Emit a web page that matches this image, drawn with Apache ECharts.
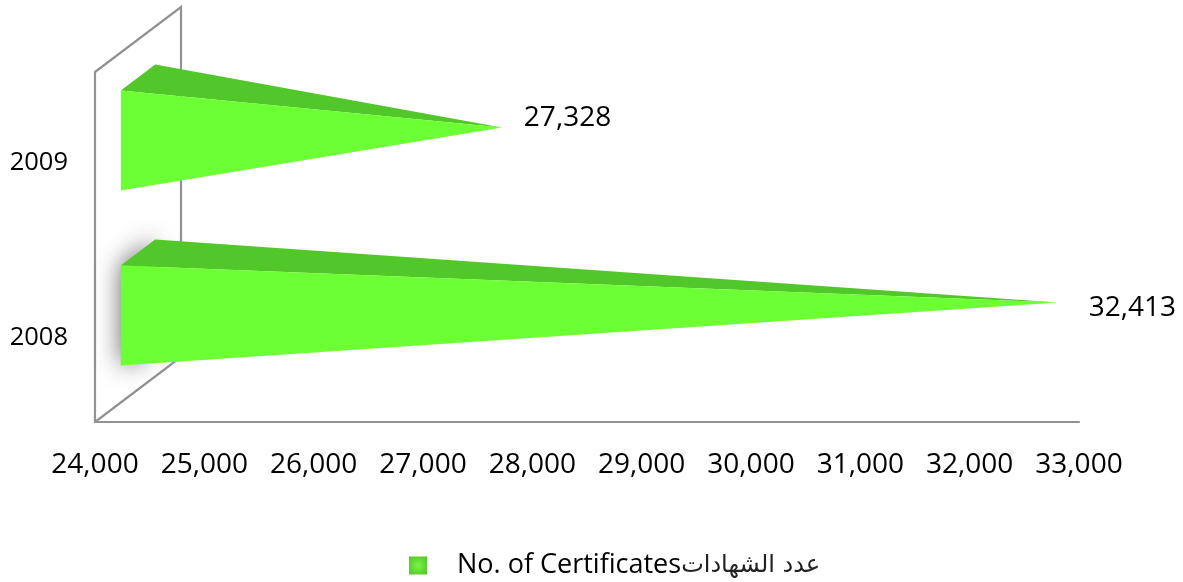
<!DOCTYPE html>
<html>
<head>
<meta charset="utf-8">
<title>No. of Certificates</title>
<script src="https://cdn.jsdelivr.net/npm/echarts@6/dist/echarts.min.js"></script>
<style>
  html, body { margin: 0; padding: 0; background: #fff; }
  #chart { width: 1183px; height: 582px; }
</style>
</head>
<body>
<div id="chart"></div>
<script>
  var years = ['2008', '2009'];
  var certificates = [32413, 27328];
  var seriesName = 'No. of Certificatesعدد الشهادات';
  var seriesNameEn = 'No. of Certificates';
  var seriesNameAr = 'عدد الشهادات';
  var xMin = 24000, xMax = 33000, xStep = 1000;

  // fake 3d: how far the back wall sits from the front plane
  var depthX = 86, depthY = 65;
  var labelShift = [[31, 6], [22, -9]];
  var labelFont = '"Open Sans", sans-serif';
  var axisGrey = '#929292';

  function renderWall(params, api) {
    var g = params.coordSys;
    var left = g.x, bottom = g.y + g.height, top = g.y;
    return {
      type: 'polyline',
      shape: { points: [
        [left, top],
        [left + depthX, top - depthY],
        [left + depthX, bottom - depthY],
        [left, bottom]
      ] },
      style: { fill: null, stroke: axisGrey, lineWidth: 2.2 },
      silent: true
    };
  }

  function renderCone(params, api) {
    var g = params.coordSys;
    var i = api.value(1);
    var p = api.coord([api.value(0), i]);
    var halfH = api.size([0, 1])[1] * 0.286;
    // centre of the pyramid sits half way into the depth
    var tip = [p[0] + depthX / 2, p[1] - depthY / 2 + 0.5];
    var baseX = g.x + depthX / 2;
    var frontX = baseX - depthX * 0.2, backX = baseX + depthX * 0.2;
    var frontDy = depthY * 0.2;
    var frontTop = [frontX, tip[1] - halfH + frontDy];
    var frontBottom = [frontX, tip[1] + halfH + frontDy];
    var backTop = [backX, tip[1] - halfH - frontDy];
    var children = [];
    if (i === 0) {
      // the soft grey glow behind the 2008 pyramid
      children.push({
        type: 'polygon',
        shape: { points: [
          [frontX + 1, frontTop[1] + 1],
          [backX - 1, backTop[1] + 1],
          [backX - 1, backTop[1] + 70],
          [frontX + 22, frontBottom[1] - 5],
          [frontX + 1, frontBottom[1] - 1]
        ] },
        style: { fill: '#6cff33', shadowBlur: 24, shadowColor: 'rgba(50,50,50,0.75)', shadowOffsetX: -1 }
      });
    }
    children.push({
      type: 'polygon',
      shape: { points: [frontTop, backTop, tip] },
      style: { fill: '#52c72a' }
    });
    children.push({
      type: 'polygon',
      shape: { points: [frontTop, frontBottom, tip] },
      style: { fill: '#6cff33' }
    });
    children.push({
      type: 'text',
      style: {
        text: api.value(0).toLocaleString('en-US'),
        x: tip[0] + labelShift[i][0],
        y: tip[1] + labelShift[i][1],
        verticalAlign: 'middle',
        fill: '#000',
        font: '28px ' + labelFont
      }
    });
    return { type: 'group', children: children };
  }

  var chart = echarts.init(document.getElementById('chart'), null, { renderer: 'canvas' });
  chart.setOption({
    animation: false,
    backgroundColor: '#fff',
    grid: { left: 95, right: 104, top: 72, bottom: 160 },
    legend: {
      left: 404,
      top: 547,
      itemWidth: 18,
      itemHeight: 18,
      icon: 'rect',
      data: [{
        name: seriesName,
        itemStyle: {
          color: new echarts.graphic.RadialGradient(0.5, 0.5, 0.7, [
            { offset: 0, color: '#78f544' },
            { offset: 1, color: '#4fc02a' }
          ])
        }
      }],
      formatter: function () {
        return '{en|' + seriesNameEn + '}{ar|' + seriesNameAr + '}';
      },
      textStyle: {
        color: '#000',
        padding: [0, 0, 0, 25],
        rich: {
          en: { fontFamily: labelFont, fontSize: 27, color: '#000' },
          ar: { fontFamily: '"DejaVu Sans", sans-serif', fontSize: 24, color: '#222' }
        }
      }
    },
    xAxis: {
      type: 'value',
      min: xMin,
      max: xMax,
      interval: xStep,
      splitLine: { show: false },
      axisTick: { show: false },
      axisLine: { show: true, lineStyle: { color: axisGrey, width: 2.2 } },
      axisLabel: {
        margin: 29,
        fontFamily: labelFont,
        fontSize: 28,
        color: '#000',
        hideOverlap: false,
        formatter: function (v) { return v.toLocaleString('en-US'); }
      }
    },
    yAxis: {
      type: 'category',
      data: years,
      axisTick: { show: false },
      axisLine: { show: true, onZero: false, lineStyle: { color: axisGrey, width: 2.2 } },
      axisLabel: {
        margin: 27,
        color: '#000',
        formatter: '{y|{value}}',
        rich: {
          y: { fontFamily: labelFont, fontSize: 25.5, color: '#000', padding: [6, 0, 0, 0] }
        }
      }
    },
    series: [
      {
        type: 'custom',
        silent: true,
        renderItem: renderWall,
        data: [[xMin, 0]],
        z: 1,
        clip: false
      },
      {
        name: seriesName,
        type: 'custom',
        renderItem: renderCone,
        encode: { x: 0, y: 1 },
        data: certificates.map(function (v, i) { return [v, i]; }),
        itemStyle: { color: '#6cff33' },
        z: 2,
        clip: false
      }
    ]
  });
</script>
</body>
</html>
